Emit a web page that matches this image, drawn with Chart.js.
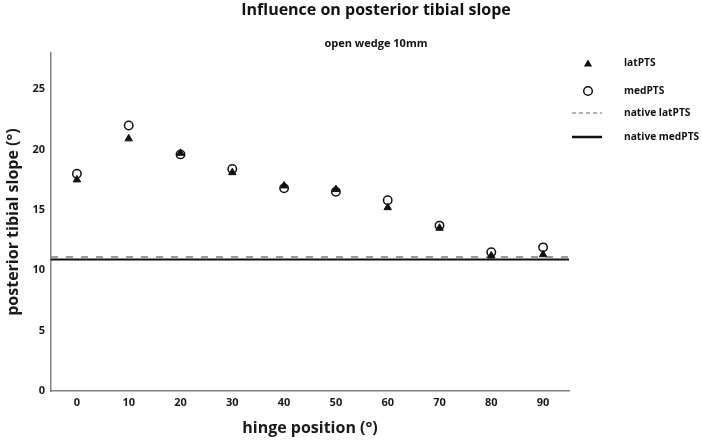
<!DOCTYPE html>
<html>
<head>
<meta charset="utf-8">
<script src="https://cdn.jsdelivr.net/npm/chart.js@4.4.1/dist/chart.umd.min.js"></script>
<style>
  body { margin: 0; background: #fff; }
</style>
</head>
<body>
<canvas id="slopeChart" width="702" height="446"></canvas>
<script>
// hinge positions (deg) and mean posterior tibial slope (deg)
var hingePos = [0, 10, 20, 30, 40, 50, 60, 70, 80, 90];
var latPTS = [17.5, 20.9, 19.7, 18.1, 17.0, 16.7, 15.2, 13.5, 11.2, 11.3];
var medPTS = [18.0, 22.0, 19.6, 18.4, 16.8, 16.5, 15.8, 13.7, 11.5, 11.9];
var nativeLatPTS = 11.1;
var nativeMedPTS = 10.9;

// axes
var xTicks = [0, 10, 20, 30, 40, 50, 60, 70, 80, 90];
var yTicks = [0, 5, 10, 15, 20, 25];
var xRange = [-5, 95];
var yRange = [0, 28];

var chartTitle = 'Influence on posterior tibial slope';
var chartSubtitle = 'open wedge 10mm';
var legendLabels = ['latPTS', 'medPTS', 'native latPTS', 'native medPTS'];

var FONT = "'Open Sans', 'DejaVu Sans', sans-serif";
Chart.defaults.font.family = FONT;
Chart.defaults.color = '#1a1a1a';

function toPoints(xs, ys) {
    return xs.map(function (x, i) { return { x: x, y: ys[i] }; });
}

// horizontal reference line across the whole x range
function flatLine(value) {
    return [{ x: xRange[0], y: value }, { x: xRange[1], y: value }];
}

// titles and the key on the right are drawn by hand so they sit where the original has them
var headerAndKey = {
    id: 'headerAndKey',
    afterDraw: function (chart) {
        var ctx = chart.ctx;
        ctx.save();
        ctx.fillStyle = '#111';
        ctx.textAlign = 'center';
        ctx.textBaseline = 'alphabetic';
        ctx.font = 'bold 16px ' + FONT;
        ctx.fillText(chartTitle, 376, 15);
        ctx.font = 'bold 11px ' + FONT;
        ctx.fillText(chartSubtitle, 376, 46.5);

        var rowY = [63, 91, 113, 137];
        var symX = 588;
        ctx.textAlign = 'left';
        ctx.textBaseline = 'middle';
        chart.data.datasets.forEach(function (ds, i) {
            var y = rowY[i];
            ctx.save();
            ctx.strokeStyle = ds.borderColor;
            ctx.fillStyle = ds.backgroundColor;
            if (ds.pointStyle === 'triangle') {
                var r = 4.8;
                var cy = y + r / 4;
                ctx.beginPath();
                ctx.moveTo(symX, cy - r);
                ctx.lineTo(symX + 0.866 * r, cy + 0.5 * r);
                ctx.lineTo(symX - 0.866 * r, cy + 0.5 * r);
                ctx.closePath();
                ctx.fill();
            } else if (ds.pointStyle === 'circle') {
                ctx.lineWidth = 1.5;
                ctx.beginPath();
                ctx.arc(symX, y, 4.3, 0, Math.PI * 2);
                ctx.stroke();
            } else {
                ctx.lineWidth = ds.borderDash ? 1.5 : 2.5;
                ctx.setLineDash(ds.borderDash ? [4, 3] : []);
                ctx.beginPath();
                ctx.moveTo(symX - 16, y);
                ctx.lineTo(symX + 14, y);
                ctx.stroke();
            }
            ctx.restore();
            ctx.font = 'bold 10.2px ' + FONT;
            ctx.fillText(legendLabels[i], 624, y);
        });
        ctx.restore();
    }
};

var ctx = document.getElementById('slopeChart').getContext('2d');
var slopeChart = new Chart(ctx, {
    type: 'scatter',
    data: {
        datasets: [
            {
                label: legendLabels[0],
                data: toPoints(hingePos, latPTS),
                pointStyle: 'triangle',
                pointRadius: 4.3,
                borderWidth: 1,
                backgroundColor: '#111',
                borderColor: '#111',
                order: 2
            },
            {
                label: legendLabels[1],
                data: toPoints(hingePos, medPTS),
                pointStyle: 'circle',
                pointRadius: 4.2,
                borderWidth: 1.5,
                backgroundColor: 'rgba(0,0,0,0)',
                borderColor: '#111',
                order: 1
            },
            {
                label: legendLabels[2],
                type: 'line',
                data: flatLine(nativeLatPTS),
                showLine: true,
                pointRadius: 0,
                borderWidth: 2,
                borderDash: [7, 8],
                borderColor: '#9b9b9b',
                backgroundColor: '#9b9b9b',
                order: 3
            },
            {
                label: legendLabels[3],
                type: 'line',
                data: flatLine(nativeMedPTS),
                showLine: true,
                pointRadius: 0,
                borderWidth: 2,
                borderColor: '#111',
                backgroundColor: '#111',
                order: 3
            }
        ]
    },
    options: {
        responsive: false,
        animation: false,
        layout: { padding: { top: 53, right: 133, bottom: 0, left: 0 } },
        plugins: {
            legend: { display: false },
            tooltip: { enabled: false }
        },
        scales: {
            x: {
                type: 'linear',
                min: xRange[0],
                max: xRange[1],
                afterBuildTicks: function (scale) {
                    scale.ticks = xTicks.map(function (v) { return { value: v }; });
                },
                afterFit: function (scale) { scale.height = 55; },
                grid: { display: false, drawTicks: false },
                border: { display: true, color: '#808080', width: 1.5 },
                ticks: { font: { size: 11, weight: 'bold' }, padding: 5 },
                title: {
                    display: true,
                    text: 'hinge position (°)',
                    font: { size: 16, weight: 'bold' },
                    padding: { top: 0, bottom: 8 }
                }
            },
            y: {
                type: 'linear',
                min: yRange[0],
                max: yRange[1],
                afterBuildTicks: function (scale) {
                    scale.ticks = yTicks.map(function (v) { return { value: v }; });
                },
                afterFit: function (scale) { scale.width = 51; },
                grid: { display: false, drawTicks: false },
                border: { display: true, color: '#808080', width: 1.5 },
                ticks: { font: { size: 11, weight: 'bold' }, padding: 6 },
                title: {
                    display: true,
                    text: 'posterior tibial slope (°)',
                    font: { size: 16, weight: 'bold' },
                    padding: { top: 4, bottom: 0 }
                }
            }
        }
    },
    plugins: [headerAndKey]
});
</script>
</body>
</html>
